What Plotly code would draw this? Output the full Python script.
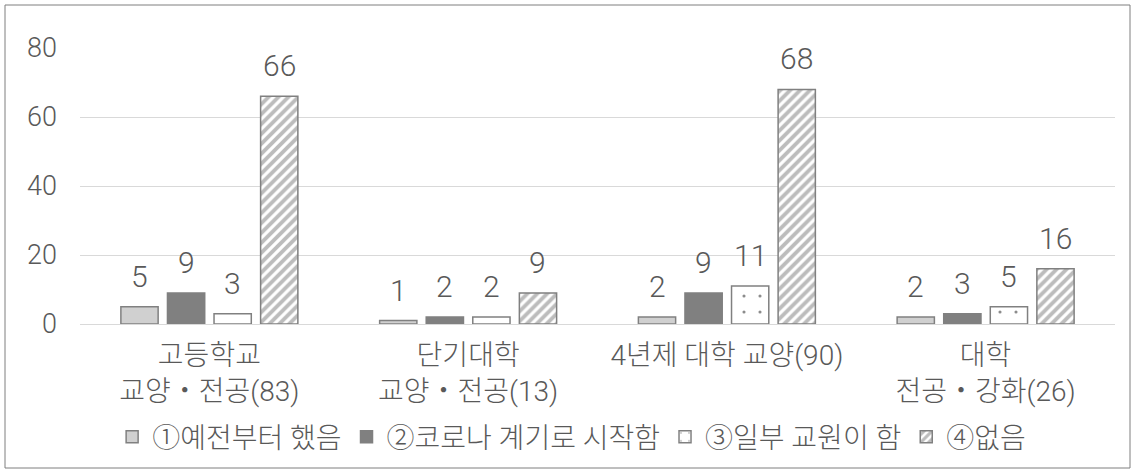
import plotly.graph_objects as go

categories = ["고등학교<br>교양・전공(83)", "단기대학<br>교양・전공(13)", "4년제 대학 교양(90)", "대학<br>전공・강화(26)"]
series_names = ["①예전부터 했음", "②코로나 계기로 시작함", "③일부 교원이 함", "④없음"]
s1 = [5, 1, 2, 2]
s2 = [9, 2, 9, 3]
s3 = [3, 2, 11, 5]
s4 = [66, 9, 68, 16]
y_ticks = [0, 20, 40, 60, 80]

FONT = "Roboto, Noto Sans CJK KR, sans-serif"
TXT = "#595959"
EDGE = "#808080"

W, H = 1135, 476
ML, MR, MT, MB = 80, 20, 48, 152
BARGAP, GROUPGAP = 0.28, 0.2

styles = [
    dict(color="#d0d0d0", line=dict(color=EDGE, width=1.5)),
    dict(color="#808080", line=dict(color=EDGE, width=1.5)),
    dict(color="white", line=dict(color=EDGE, width=1.5),
         pattern=dict(shape=".", fgcolor="#1a1a1a", bgcolor="white", size=16, solidity=0.03)),
    dict(color="white", line=dict(color=EDGE, width=1.5),
         pattern=dict(shape="/", fgcolor="#7a7a7a", bgcolor="white", size=7, solidity=0.55)),
]
all_series = [s1, s2, s3, s4]

fig = go.Figure()
for name, vals, mk in zip(series_names, all_series, styles):
    fig.add_trace(go.Bar(x=categories, y=vals, name=name, marker=mk))

# value labels above each bar, shifted to its slot inside the group
cat_px = (W - ML - MR) / len(categories)
slot_px = cat_px * (1 - BARGAP) / len(all_series)
n = len(all_series)
for i, vals in enumerate(all_series):
    for c, v in zip(categories, vals):
        fig.add_annotation(x=c, y=v, text=str(v), showarrow=False,
                           xshift=(i - (n - 1) / 2) * slot_px, yshift=11,
                           yanchor="bottom", xanchor="center",
                           font=dict(size=30, color=TXT, family=FONT, weight=300))

fig.update_layout(
    width=W, height=H,
    margin=dict(l=ML, r=MR, t=MT, b=MB),
    paper_bgcolor="white", plot_bgcolor="white",
    barmode="group", bargap=BARGAP, bargroupgap=GROUPGAP,
    font=dict(family=FONT, color=TXT, size=24, weight=300),
    showlegend=True,
    legend=dict(orientation="h", x=0.475, xanchor="center", y=-0.41, yanchor="middle",
                font=dict(size=28, color=TXT, family=FONT, weight=300), itemwidth=30,
                traceorder="normal"),
)
fig.update_xaxes(showgrid=False, showline=False, ticks="", ticklabelstandoff=12,
                 tickfont=dict(size=28, color=TXT, family=FONT, weight=300))
fig.update_yaxes(range=[0, 80], tickvals=y_ticks, showgrid=True, gridcolor="#d9d9d9", gridwidth=1,
                 zeroline=True, zerolinecolor="#d9d9d9", zerolinewidth=1, showline=False,
                 ticks="", ticklabelstandoff=22,
                 tickfont=dict(size=27, color=TXT, family=FONT, weight=300))

# outer frame around the whole chart
pw, ph = W - ML - MR, H - MT - MB
fig.add_shape(type="rect", xref="paper", yref="paper",
              x0=(5 - ML) / pw, x1=(W - 5 - ML) / pw,
              y0=(H - MB - (H - 8)) / ph, y1=(H - MB - 5) / ph,
              line=dict(color="#7f7f7f", width=1), fillcolor="rgba(0,0,0,0)", layer="below")

fig.write_html("out.html")
